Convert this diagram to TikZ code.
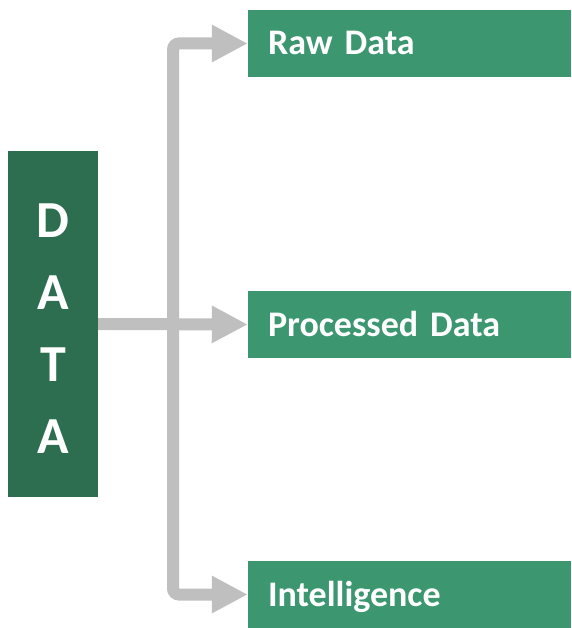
\documentclass[tikz,border=0pt]{standalone}
\usepackage{fontspec}
\setmainfont{Carlito}
\usetikzlibrary{arrows.meta}
\definecolor{darkgreen}{HTML}{2D6E50}
\definecolor{lightgreen}{HTML}{3C9770}
\definecolor{arrowgray}{HTML}{BFBFBF}
\tikzset{
  databox/.style={fill=darkgreen, minimum width=90pt, minimum height=346pt, inner sep=0pt},
  dataletters/.style={text=white, align=center, inner sep=0pt,
    font=\bfseries\fontsize{52}{72}\selectfont},
  catbox/.style={fill=lightgreen, text=white, minimum width=323pt, minimum height=67pt,
    text width=283pt, align=left, inner xsep=20pt, inner ysep=0pt,
    text height=23pt, text depth=0pt, font=\bfseries\fontsize{36}{43}\selectfont},
  flow/.style={draw=arrowgray, line width=12pt, rounded corners=6pt,
    -{Triangle[length=36pt,width=35pt]}}
}
\begin{document}
\begin{tikzpicture}[x=1pt, y=-1pt]
  \useasboundingbox (0,0) rectangle (571,628);
  \node (data) [databox] at (53,324) {};
  \node (letters) [dataletters] at (53,328.5) {D\\A\\T\\A};
  \node (raw) [catbox] at (409.5,43.5) {Raw Data};
  \node (proc) [catbox] at (409.5,324.5) {Processed Data};
  \node (intel) [catbox] at (409.5,594.5) {Intelligence};
  \coordinate (hub) at (173,324);
  \draw[flow] (data.east) -- (proc.west);
  \draw[flow] (hub) |- (raw.west);
  \draw[flow] (hub) |- (intel.west);
\end{tikzpicture}
\end{document}
